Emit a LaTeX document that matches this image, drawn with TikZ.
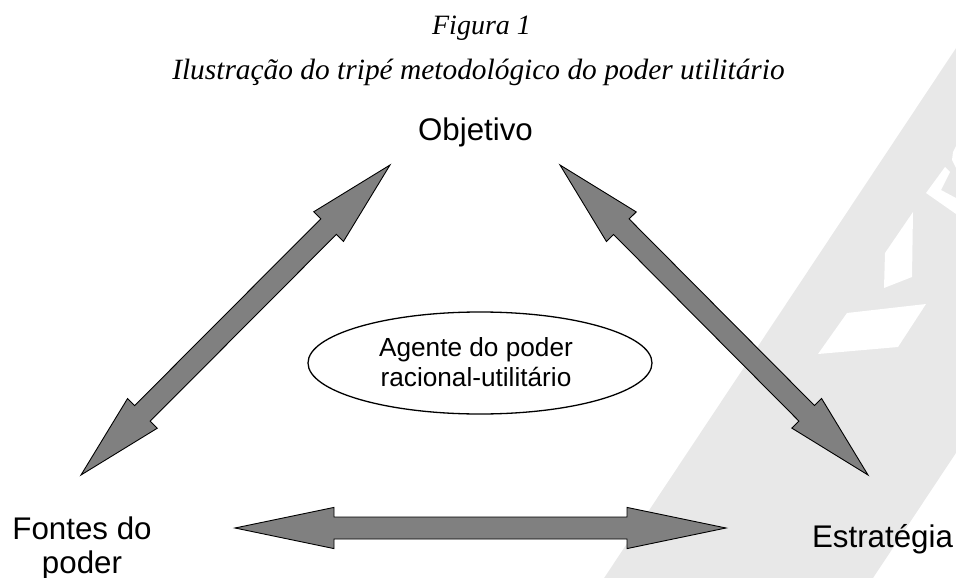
\documentclass[tikz,border=0pt]{standalone}
\usepackage{fontspec}
\setmainfont{Liberation Serif}
\setsansfont{Liberation Sans}
\usetikzlibrary{calc,shapes.geometric}
\definecolor{wmgray}{RGB}{232,232,232}
\definecolor{arrowgray}{RGB}{128,128,128}
\tikzset{
  fatarrow/.style={fill=arrowgray,draw=black,line width=0.9pt,line join=miter},
  label/.style={font=\sffamily\fontsize{31.3}{33.5}\selectfont,inner sep=0pt,align=center},
  titletext/.style={font=\itshape\fontsize{28}{30}\selectfont,inner sep=0pt,anchor=base},
  agentbox/.style={ellipse,draw=black,line width=1.3pt,minimum width=344pt,minimum height=102pt,inner sep=0pt},
  agenttext/.style={inner sep=0pt,align=center,font=\sffamily\fontsize{26.2}{29.5}\selectfont}
}
% #1 end A, #2 end B, #3 head length, #4 head half width, #5 shaft half width
\newcommand\fatdouble[5]{%
  \path[fatarrow] (#1)
    -- ($(#1)!#3!(#2)!#4!90:(#2)$)
    -- ($(#1)!#3!(#2)!#5!90:(#2)$)
    -- ($(#2)!#3!(#1)!#5!270:(#1)$)
    -- ($(#2)!#3!(#1)!#4!270:(#1)$)
    -- (#2)
    -- ($(#2)!#3!(#1)!#4!90:(#1)$)
    -- ($(#2)!#3!(#1)!#5!90:(#1)$)
    -- ($(#1)!#3!(#2)!#5!270:(#2)$)
    -- ($(#1)!#3!(#2)!#4!270:(#2)$)
    -- cycle;}
\begin{document}
\begin{tikzpicture}[x=1pt,y=-1pt]
\useasboundingbox (0,0) rectangle (956,578);
% watermark
\begin{scope}
  \clip (0,0) rectangle (956,578);
  \fill[wmgray] (994.6,-10) -- (589.5,600) -- (858.4,600) -- (1263,-10) -- cycle;
  \fill[white] (913,212) -- (912,277) -- (884,288) -- (885,253) -- cycle;
  \fill[white] (847,313) -- (926,304) -- (898,347) -- (818,354) -- cycle;
  \fill[white] (956,214) -- (926,193) -- (945,167) -- (950,172) -- (941,190) -- (956,198) -- cycle;
  \fill[white] (956,146) -- (953,152) -- (952,160) -- (956,168) -- cycle;
\end{scope}
% title
\node[titletext] (fig) at (481.5,35) {Figura 1};
\node[titletext,font=\itshape\fontsize{29.4}{30}\selectfont] (cap) at (478.5,80) {Ilustração do tripé metodológico do poder utilitário};
% labels
\node[label,anchor=base] (obj) at (475.5,140) {Objetivo};
\node[label,anchor=base] (fon) at (82,573) {Fontes do\\poder};
\node[label,anchor=base] (est) at (882.5,547) {Estratégia};
\node[agentbox] (agt) at (480,363) {};
\node[agenttext] (agtt) at (476,362) {Agente do poder\\racional-utilitário};
% arrow ends
\coordinate (l1) at (81,475);
\coordinate (l2) at (390,165);
\coordinate (r1) at (560,165);
\coordinate (r2) at (868,475);
\coordinate (b1) at (235,528);
\coordinate (b2) at (726,528);
\fatdouble{l1}{l2}{87pt}{21pt}{11pt}
\fatdouble{r1}{r2}{87pt}{21pt}{11pt}
\fatdouble{b1}{b2}{99pt}{20.6pt}{11pt}
\end{tikzpicture}
\end{document}
